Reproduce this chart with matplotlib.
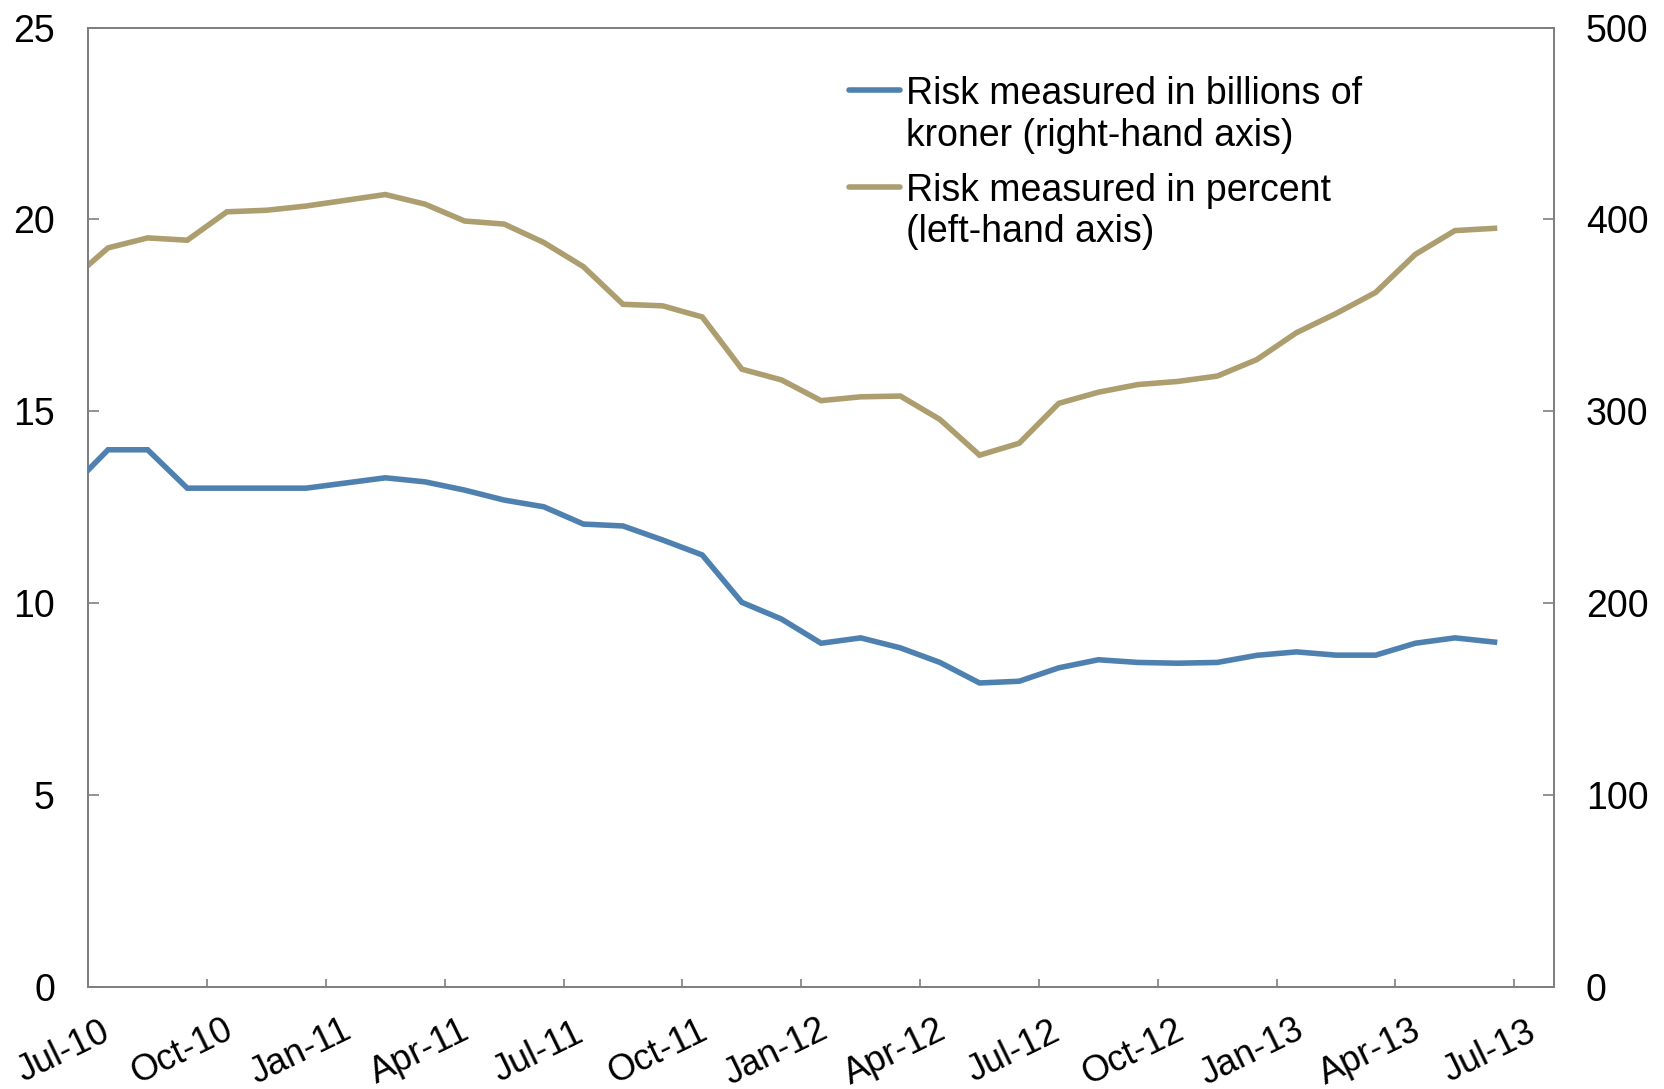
import matplotlib
matplotlib.use('Agg')
import matplotlib.pyplot as plt
import matplotlib.transforms as mtransforms
from matplotlib.lines import Line2D

plt.rcParams['font.family'] = ['Liberation Sans', 'DejaVu Sans']

# months after 1 Jul 2010 for each observation
months = [0, 0.5, 1.5, 2.5, 3.5, 4.5, 5.5, 6.5, 7.5, 8.5, 9.5, 10.5, 11.5,
          12.5, 13.5, 14.5, 15.5, 16.5, 17.5, 18.5, 19.5, 20.5, 21.5, 22.5,
          23.5, 24.5, 25.5, 26.5, 27.5, 28.5, 29.5, 30.5, 31.5, 32.5, 33.5,
          34.5, 35.5]

# risk in billions of kroner (right-hand axis)
risk_nok = [269.5, 280, 280, 260, 260, 260, 260, 262.7, 265.4, 263.3, 259,
            253.8, 250.3, 241.3, 240.3, 233, 225.2, 200.5, 191.8, 179.2, 182,
            176.8, 169.2, 158.5, 159.4, 166.4, 170.6, 169.2, 168.8, 169.2,
            172.9, 174.7, 173, 173, 179.2, 182, 179.8]

# risk in percent (left-hand axis)
risk_pct = [18.81, 19.26, 19.52, 19.46, 20.20, 20.24, 20.35, 20.50, 20.65,
            20.40, 19.96, 19.88, 19.40, 18.77, 17.79, 17.75, 17.46, 16.10,
            15.82, 15.28, 15.38, 15.40, 14.79, 13.86, 14.17, 15.21, 15.50,
            15.70, 15.78, 15.92, 16.35, 17.05, 17.55, 18.10, 19.09, 19.71,
            19.77]

tick_months = [0, 3, 6, 9, 12, 15, 18, 21, 24, 27, 30, 33, 36]
tick_labels = ['Jul-10', 'Oct-10', 'Jan-11', 'Apr-11', 'Jul-11', 'Oct-11',
               'Jan-12', 'Apr-12', 'Jul-12', 'Oct-12', 'Jan-13', 'Apr-13',
               'Jul-13']

BLUE = '#4F81B0'
TAN = '#AD9E70'
GREY = '#7F7F7F'
FS = 27

fig = plt.figure(figsize=(16.65, 10.89), dpi=100)
ax = fig.add_axes([0.0530, 0.0935, 0.8803, 0.8812])
ax2 = ax.twinx()

ax.plot(months, risk_pct, color=TAN, lw=4, solid_joinstyle='miter', zorder=3)
ax2.plot(months, risk_nok, color=BLUE, lw=4, solid_joinstyle='miter', zorder=3)

ax.set_xlim(0, 37)
ax.set_ylim(0, 25)
ax2.set_ylim(0, 500)
ax.set_yticks([0, 5, 10, 15, 20, 25])
ax2.set_yticks([0, 100, 200, 300, 400, 500])
ax.set_xticks(tick_months)

for a in (ax, ax2):
    for s in a.spines.values():
        s.set_color(GREY)
        s.set_linewidth(1.3)
ax.tick_params(axis='y', direction='in', length=7.7, width=1.2, color=GREY,
               labelsize=FS, pad=24)
ax2.tick_params(axis='y', direction='in', length=7.7, width=1.2, color=GREY,
                labelsize=FS, pad=23)
ax.tick_params(axis='x', direction='in', length=6, width=1.2, color=GREY,
               labelbottom=False)

# slanted date labels, centred a little left of and below their ticks
lab_tr = (mtransforms.blended_transform_factory(ax.transData, ax.transAxes)
          + mtransforms.ScaledTranslation(-0.25, -0.65, fig.dpi_scale_trans))
for m, lab in zip(tick_months, tick_labels):
    ax.text(m, 0, lab, transform=lab_tr, rotation=26, rotation_mode='anchor',
            ha='center', va='center', fontsize=26, clip_on=False)

# legend drawn by hand so the line sits on the first text line
H = 1089.0
W = 1665.0
entries = [(BLUE, ['Risk measured in billions of', 'kroner (right-hand axis)'], 90),
           (TAN, ['Risk measured in percent', '(left-hand axis)'], 186.5)]
for col, lines, yh in entries:
    fig.add_artist(Line2D([849.5 / W, 900.5 / W], [1 - yh / H, 1 - yh / H],
                          color=col, lw=4, solid_capstyle='round'))
    for i, txt in enumerate(lines):
        yb = yh + 14 + i * 42
        fig.text(906 / W, 1 - yb / H, txt, fontsize=FS, ha='left', va='baseline')

fig.savefig('out.png', dpi=100)
